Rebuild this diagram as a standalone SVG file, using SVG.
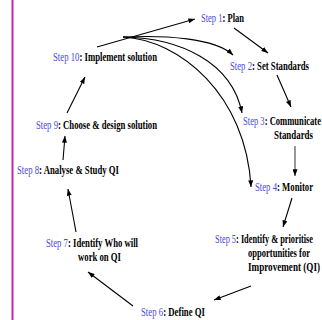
<svg xmlns="http://www.w3.org/2000/svg" width="322" height="320" viewBox="0 0 322 320">
<style>
text{font-family:"Liberation Serif","Times New Roman",serif;font-size:13.5px;fill:#000;font-weight:bold}
.s{fill:#4a4ad8;font-weight:normal}
.c line,.c path{stroke:#000;stroke-width:1.1;fill:none;marker-end:url(#ah)}
</style>
<defs>
<marker id="ah" viewBox="0 0 8 6" refX="8" refY="3" markerWidth="7" markerHeight="5" markerUnits="userSpaceOnUse" orient="auto">
<path d="M0,0 L8,3 L0,6 z" fill="#000"/>
</marker>
</defs>
<rect width="322" height="320" fill="#fff"/>
<line x1="12.5" y1="0" x2="12.5" y2="320" stroke="#c42a9e" stroke-width="2"/>
<g class="c" id="connectors">
<line x1="97" y1="47" x2="195" y2="19"/>
<path d="M123,37 C165,35 215,38 233,55"/>
<path d="M123,37 C180,38 232,62 242,113"/>
<path d="M123,37 C180,40 246,95 251,187"/>
<line x1="234" y1="28" x2="268" y2="53"/>
<line x1="277" y1="75" x2="291" y2="107"/>
<line x1="295" y1="146" x2="295" y2="176" style="stroke:#444"/>
<line x1="292" y1="198" x2="283" y2="227"/>
<line x1="251" y1="286" x2="214" y2="300"/>
<line x1="133" y1="306" x2="88" y2="272"/>
<line x1="76" y1="232" x2="68" y2="189"/>
<line x1="63" y1="160" x2="65" y2="136"/>
<line x1="67" y1="113" x2="85" y2="77"/>
</g>
<g id="step1"><text x="201" y="22" textLength="43" lengthAdjust="spacingAndGlyphs"><tspan class="s">Step 1</tspan>: Plan</text></g>
<g id="step2"><text x="230" y="70" textLength="79" lengthAdjust="spacingAndGlyphs"><tspan class="s">Step 2</tspan>: Set Standards</text></g>
<g id="step3"><text x="243" y="125" textLength="78" lengthAdjust="spacingAndGlyphs"><tspan class="s">Step 3</tspan>: Communicate</text>
<text x="274" y="139" textLength="39" lengthAdjust="spacingAndGlyphs">Standards</text></g>
<g id="step4"><text x="255" y="191" textLength="58" lengthAdjust="spacingAndGlyphs"><tspan class="s">Step 4</tspan>: Monitor</text></g>
<g id="step5"><text x="215" y="243" textLength="98" lengthAdjust="spacingAndGlyphs"><tspan class="s">Step 5</tspan>: Identify &amp; prioritise</text>
<text x="248" y="257" textLength="62" lengthAdjust="spacingAndGlyphs">opportunities for</text>
<text x="248" y="271" textLength="72" lengthAdjust="spacingAndGlyphs">Improvement  (QI)</text></g>
<g id="step6"><text x="141" y="316" textLength="64" lengthAdjust="spacingAndGlyphs"><tspan class="s">Step 6</tspan>: Define QI</text></g>
<g id="step7"><text x="46" y="247" textLength="92" lengthAdjust="spacingAndGlyphs"><tspan class="s">Step 7</tspan>: Identify Who will</text>
<text x="78" y="261" textLength="43" lengthAdjust="spacingAndGlyphs">work on QI</text></g>
<g id="step8"><text x="17" y="174" textLength="102" lengthAdjust="spacingAndGlyphs"><tspan class="s">Step 8</tspan>: Analyse &amp; Study QI</text></g>
<g id="step9"><text x="36" y="129" textLength="121" lengthAdjust="spacingAndGlyphs"><tspan class="s">Step 9</tspan>: Choose &amp; design solution</text></g>
<g id="step10"><text x="53" y="61" textLength="104" lengthAdjust="spacingAndGlyphs"><tspan class="s">Step 10</tspan>: Implement solution</text></g>
</svg>
